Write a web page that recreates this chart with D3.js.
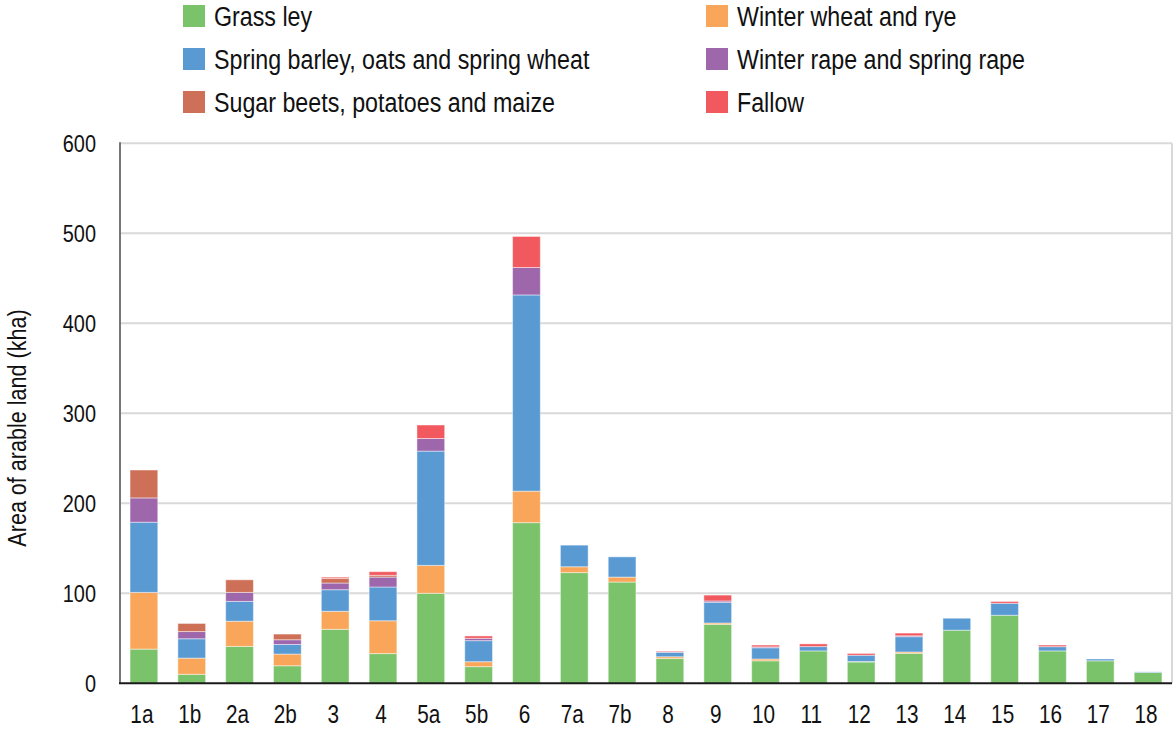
<!DOCTYPE html>
<html>
<head>
<meta charset="utf-8">
<script src="https://cdn.jsdelivr.net/npm/d3@7"></script>
<style>
  html, body { margin: 0; padding: 0; background: #fff; }
  svg text { font-family: "Liberation Sans", Arial, sans-serif; fill: #111; }
</style>
</head>
<body>
<svg id="chart" width="1174" height="731"></svg>
<script>
const categories = ["1a", "1b", "2a", "2b", "3", "4", "5a", "5b", "6", "7a", "7b",
  "8", "9", "10", "11", "12", "13", "14", "15", "16", "17", "18"];

// kha per production area
const grassLey     = [38, 10, 41, 19.5, 60, 33, 100, 18.5, 178.5, 123, 112.5, 27.5, 65.5, 25, 36, 23.7, 33.3, 59, 75.6, 36, 25, 12];
const winterWheat  = [63, 18, 28, 13, 20, 36.5, 31, 5.5, 35, 6.5, 5.5, 2, 1.5, 2, 0, 0.5, 1.5, 0, 0, 0, 0, 0];
const springBarley = [78, 21.5, 22, 10.7, 24, 37.5, 127, 23.4, 218, 24, 22.5, 5, 23, 12.5, 4.8, 7, 17, 13.3, 13.3, 4.7, 2, 0.7];
const rape         = [27, 8, 10, 5.2, 7.4, 11, 14, 2.6, 30.5, 0, 0, 0.5, 1.5, 1, 0, 0, 1, 0, 0, 0, 0, 0];
const sugarBeets   = [31, 9, 14, 6.3, 5, 2, 0, 0, 0, 0, 0, 0, 0, 0, 0, 0, 0, 0, 0, 0, 0, 0];
const fallow       = [0, 0, 0, 0, 1.5, 4, 15, 2.6, 34.5, 0, 0, 0.8, 6.5, 2, 3, 2, 3, 0, 2, 1.8, 0, 0];

const seriesNames = ["Grass ley", "Winter wheat and rye", "Spring barley, oats and spring wheat",
  "Winter rape and spring rape", "Sugar beets, potatoes and maize", "Fallow"];
const seriesValues = [grassLey, winterWheat, springBarley, rape, sugarBeets, fallow];
const colors = ["#7bc36a", "#f9a65a", "#599ad3", "#9e66ab", "#ce7058", "#f1595f"];
const yTicks = [0, 100, 200, 300, 400, 500, 600];

const svg = d3.select("#chart");
const plotLeft = 120, plotRight = 1172, plotTop = 143.3, plotBottom = 683.3;
const squeeze = 0.83; // narrow-font look

const rows = categories.map((c, i) => {
  const r = { cat: c };
  seriesNames.forEach((s, k) => { r[s] = seriesValues[k][i]; });
  return r;
});
const stacked = d3.stack().keys(seriesNames)(rows);

const x = d3.scaleBand().domain(categories).range([plotLeft, plotRight])
  .paddingInner(0.42).paddingOuter(0.21);
const y = d3.scaleLinear().domain([0, 600]).range([plotBottom, plotTop]);
const color = d3.scaleOrdinal().domain(seriesNames).range(colors);

// gridlines
svg.append("g").selectAll("line")
  .data(yTicks.filter((t) => t > 0))
  .join("line")
  .attr("x1", plotLeft).attr("x2", plotRight)
  .attr("y1", (d) => y(d)).attr("y2", (d) => y(d))
  .attr("stroke", "#d9d9d9").attr("stroke-width", 2);

// right frame edge
svg.append("line")
  .attr("x1", plotRight).attr("x2", plotRight).attr("y1", plotTop).attr("y2", plotBottom)
  .attr("stroke", "#d9d9d9").attr("stroke-width", 2);

// bars
svg.append("g").selectAll("g")
  .data(stacked)
  .join("g")
  .attr("fill", (d) => color(d.key))
  .selectAll("rect")
  .data((d) => d.filter((p) => p[1] - p[0] > 0))
  .join("rect")
  .attr("x", (d) => x(d.data.cat))
  .attr("width", x.bandwidth())
  .attr("y", (d) => y(d[1]))
  .attr("height", (d) => y(d[0]) - y(d[1]))
  .attr("stroke", "#ffffff")
  .attr("stroke-opacity", 0.45)
  .attr("stroke-width", 1);

// axes lines
svg.append("line")
  .attr("x1", plotLeft).attr("x2", plotLeft).attr("y1", plotTop - 1).attr("y2", plotBottom)
  .attr("stroke", "#767676").attr("stroke-width", 2);
svg.append("line")
  .attr("x1", plotLeft - 1).attr("x2", plotRight).attr("y1", plotBottom).attr("y2", plotBottom)
  .attr("stroke", "#1a1a1a").attr("stroke-width", 2);

// y tick labels
svg.append("g").selectAll("text")
  .data(yTicks)
  .join("text")
  .attr("transform", (d) => `translate(96,${y(d)}) scale(${squeeze},1)`)
  .attr("text-anchor", "end")
  .attr("dy", "0.36em")
  .attr("font-size", 24)
  .text((d) => d);

// x tick labels
svg.append("g").selectAll("text")
  .data(categories)
  .join("text")
  .attr("transform", (d) => `translate(${x(d) + x.bandwidth() / 2 - 2},723) scale(${squeeze},1)`)
  .attr("text-anchor", "middle")
  .attr("font-size", 25)
  .text((d) => d);

// y axis title
svg.append("text")
  .attr("transform", `translate(26,428) rotate(-90) scale(${squeeze},1)`)
  .attr("text-anchor", "middle")
  .attr("font-size", 26)
  .text("Area of arable land (kha)");

// legend, two columns
const legendPos = [[183, 5], [706, 5], [183, 48], [706, 48], [183, 91], [706, 91]];
const legendOrder = [0, 1, 2, 3, 4, 5];
const legend = svg.append("g").selectAll("g")
  .data(legendOrder)
  .join("g")
  .attr("transform", (k) => `translate(${legendPos[k][0]},${legendPos[k][1]})`);
legend.append("rect")
  .attr("width", 22).attr("height", 22)
  .attr("fill", (k) => colors[k]);
legend.append("text")
  .attr("transform", `translate(31,21) scale(${squeeze},1)`)
  .attr("font-size", 28)
  .text((k) => seriesNames[k]);
</script>
</body>
</html>
